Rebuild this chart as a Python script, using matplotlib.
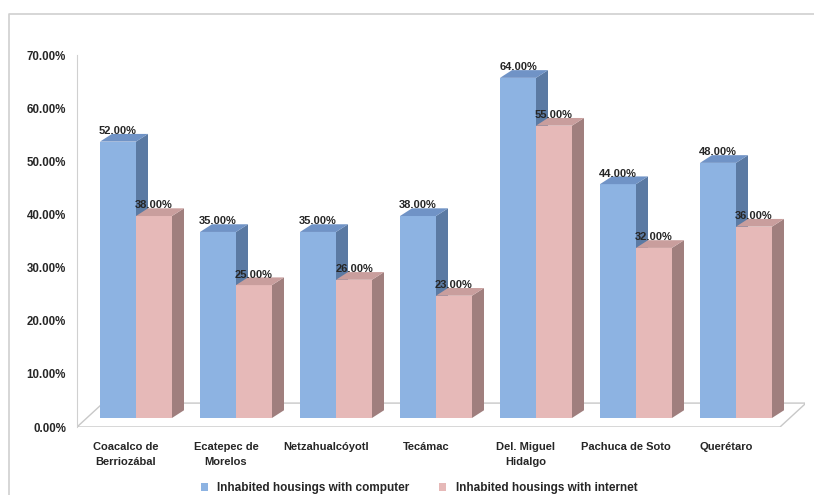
import numpy as np
import matplotlib
matplotlib.use("Agg")
import matplotlib.pyplot as plt
from matplotlib.patches import Polygon
from matplotlib.lines import Line2D
from matplotlib.ticker import FuncFormatter

# ── data
categories = ["Coacalco de\nBerriozábal", "Ecatepec de\nMorelos", "Netzahualcóyotl",
              "Tecámac", "Del. Miguel\nHidalgo", "Pachuca de Soto", "Querétaro"]
computer = [52, 35, 35, 38, 64, 44, 48]
internet = [38, 25, 26, 23, 55, 32, 36]
series_names = ["Inhabited housings with computer", "Inhabited housings with internet"]

# ── style
front = ["#8db3e2", "#e6b9b8"]
side = ["#5b7aa3", "#a07f7e"]
top = ["#7093c6", "#c99e9d"]
bar_w = 0.36
dx, dy = 0.12, 1.45      # bar depth (3D look)
base = 1.7               # bars sit a bit back on the floor
txt = "#262626"
plt.rcParams["font.family"] = ["Liberation Sans", "DejaVu Sans"]

fig = plt.figure(figsize=(8.14, 4.95), dpi=100)
ax = fig.add_axes([77 / 814, 68 / 495, 728 / 814, 372 / 495])
ax.set_xlim(-0.59, 6.69)
ax.set_ylim(0, 70)

# outer chart border: only left and top edges show
bx, by = 9 / 814, 1 - 14 / 495
fig.add_artist(Line2D([bx, bx, 1], [0, by, by], transform=fig.transFigure,
                      color="#d0d0d0", lw=1.2))

# floor
fx0, fx1, fdx, fdy = -0.59, 6.44, 0.26, 4.5
ax.add_patch(Polygon([(fx0, 0), (fx1, 0), (fx1 + fdx, fdy), (fx0 + fdx, fdy)],
                     closed=True, facecolor="white", edgecolor="#c8c8c8", lw=1, zorder=1))

x = np.arange(len(categories))
for s, vals in enumerate([computer, internet]):
    left = x - bar_w + s * bar_w
    ax.bar(left, vals, width=bar_w, bottom=base, align="edge",
           color=front[s], edgecolor="none", zorder=3 + s, label=series_names[s])
    for xl, v in zip(left, vals):
        xr = xl + bar_w
        yt = base + v
        ax.add_patch(Polygon([(xr, base), (xr + dx, base + dy), (xr + dx, yt + dy), (xr, yt)],
                             closed=True, facecolor=side[s], edgecolor="none", zorder=3 + s))
        ax.add_patch(Polygon([(xl, yt), (xr, yt), (xr + dx, yt + dy), (xl + dx, yt + dy)],
                             closed=True, facecolor=top[s], edgecolor="none", zorder=3 + s))
        ax.text(xl + bar_w / 2, yt + dy - 0.4, f"{v:.2f}%", ha="center", va="bottom",
                fontsize=8, fontweight="bold", color=txt, zorder=10)

# axes look
for sp in ["top", "right", "bottom"]:
    ax.spines[sp].set_visible(False)
ax.spines["left"].set_color("#d0d0d0")
ax.set_yticks(np.arange(0, 71, 10))
ax.yaxis.set_major_formatter(FuncFormatter(lambda v, p: f"{v:.2f}%"))
ax.tick_params(axis="y", length=0, pad=8, labelsize=8.3, labelcolor=txt)
for t in ax.get_yticklabels():
    t.set_fontweight("bold")
ax.set_xticks(x - 0.1)
ax.set_xticklabels(categories, fontsize=8, fontweight="bold", color=txt,
                   linespacing=1.55)
ax.tick_params(axis="x", length=0, pad=11)

ax.legend(loc="upper center", bbox_to_anchor=(0.47, -0.12), ncol=2, frameon=False,
          handlelength=0.6, handleheight=0.6, columnspacing=2.5, handletextpad=0.8,
          prop={"size": 8.5, "weight": "bold"}, labelcolor=txt)

fig.savefig("out.png", dpi=100)
